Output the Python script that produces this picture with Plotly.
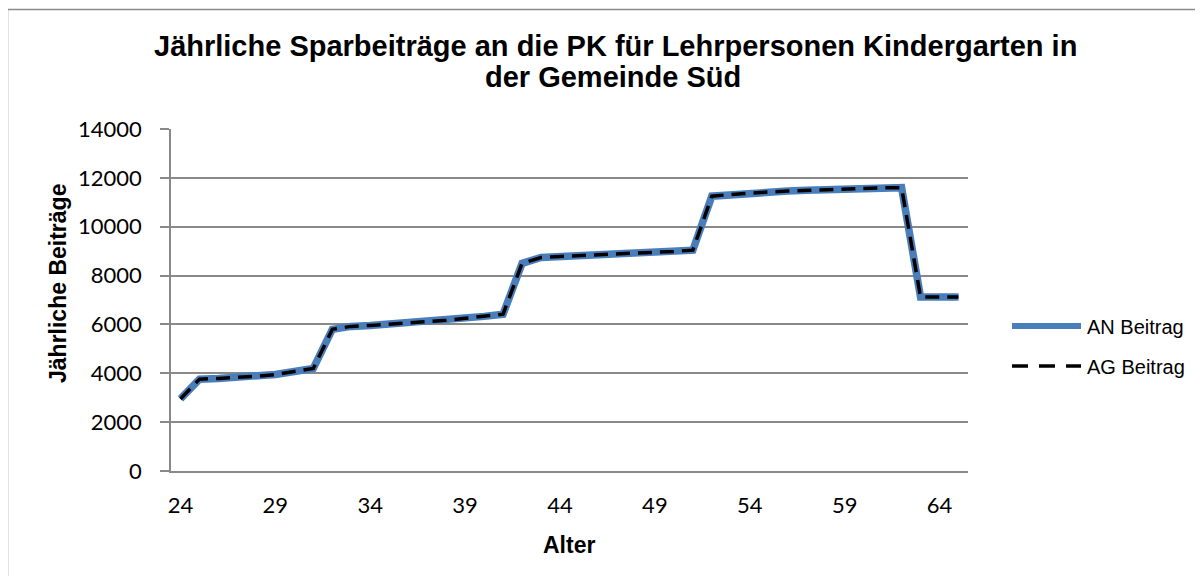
import plotly.graph_objects as go

ages = list(range(24, 66))
an_beitrag = [2950, 3760, 3790, 3830, 3880, 3950, 4070, 4200,
              5800, 5920, 5960, 6010, 6060, 6110, 6170, 6250, 6330, 6420,
              8500, 8740, 8780, 8810, 8850, 8880, 8920, 8950, 8990, 9040,
              11250, 11320, 11380, 11420, 11460, 11490, 11520, 11550, 11570, 11590, 11600,
              7120, 7120, 7120]
ag_beitrag = list(an_beitrag)
x_tick_vals = [24, 29, 34, 39, 44, 49, 54, 59, 64]
y_tick_vals = [0, 2000, 4000, 6000, 8000, 10000, 12000, 14000]

title_lines = ["Jährliche Sparbeiträge an die PK für Lehrpersonen Kindergarten in",
               "der Gemeinde Süd"]
x_title = "Alter"
y_title = "Jährliche Beiträge"
series_names = ["AN Beitrag", "AG Beitrag"]

BLUE = "#4A7EBB"
GRID = "#898989"

OFF = 8  # page body margin
W, H = 1203 - 2 * OFF, 584 - 2 * OFF
# plot area in page coordinates
PL, PR, PT, PB = 171, 968, 129, 471
L, R, T, B = PL - OFF, PR - OFF, PT - OFF, PB - OFF


def px(xp):
    return (xp - PL) / (PR - PL)


def py(yp):
    return (PB - yp) / (PB - PT)


fig = go.Figure()
fig.add_trace(go.Scatter(x=ages, y=an_beitrag, mode="lines", name=series_names[0],
                         line=dict(color=BLUE, width=7.5), showlegend=False))
fig.add_trace(go.Scatter(x=ages, y=ag_beitrag, mode="lines", name=series_names[1],
                         line=dict(color="black", width=3.5, dash="14px,8px"), showlegend=False))

shapes = [
    dict(type="rect", xref="paper", yref="paper", x0=px(7.5), x1=px(1230), y0=py(620), y1=py(9.5),
         line=dict(color="#8a8a8a", width=1.5), layer="below"),
    dict(type="line", xref="paper", yref="paper", x0=px(1012), x1=px(1081), y0=py(326), y1=py(326),
         line=dict(color=BLUE, width=6)),
    dict(type="line", xref="paper", yref="paper", x0=px(1012), x1=px(1081), y0=py(366), y1=py(366),
         line=dict(color="black", width=3.5, dash="16px,11px")),
]

title_font = dict(family="Arial", size=29, color="black", weight="bold")
annotations = [
    dict(text=title_lines[0], xref="paper", yref="paper", x=px(615.5), y=py(46), showarrow=False,
         font=title_font, xanchor="center", yanchor="middle"),
    dict(text=title_lines[1], xref="paper", yref="paper", x=px(612.5), y=py(77), showarrow=False,
         font=title_font, xanchor="center", yanchor="middle"),
    dict(text=y_title, xref="paper", yref="paper", x=px(58), y=py(284), showarrow=False,
         textangle=-90, font=dict(family="Arial", size=23, color="black", weight="bold"),
         xanchor="center", yanchor="middle"),
    dict(text=x_title, xref="paper", yref="paper", x=px(569), y=py(545), showarrow=False,
         font=dict(family="Arial", size=23, color="black", weight="bold"),
         xanchor="center", yanchor="middle"),
    dict(text=series_names[0], xref="paper", yref="paper", x=px(1085), y=py(327), showarrow=False,
         font=dict(family="Arial", size=20, color="black"), xanchor="left", yanchor="middle"),
    dict(text=series_names[1], xref="paper", yref="paper", x=px(1085), y=py(367), showarrow=False,
         font=dict(family="Arial", size=20, color="black"), xanchor="left", yanchor="middle"),
]

fig.update_layout(
    width=W, height=H,
    margin=dict(l=L, r=W - R, t=T, b=H - B, pad=0),
    paper_bgcolor="white", plot_bgcolor="white",
    shapes=shapes, annotations=annotations, showlegend=False,
    xaxis=dict(range=[23.5, 65.5], tickvals=x_tick_vals, ticktext=[str(v) for v in x_tick_vals],
               showgrid=False, zeroline=False, showline=True, linecolor=GRID, linewidth=1.5,
               ticks="", ticklabelstandoff=14,
               tickfont=dict(family="Lato", size=22, color="black")),
    yaxis=dict(range=[0, 14000], tickvals=y_tick_vals, ticktext=[str(v) for v in y_tick_vals],
               showgrid=True, gridcolor=GRID, gridwidth=1.5,
               zeroline=False, showline=True, linecolor=GRID, linewidth=1.5,
               ticks="outside", ticklen=9, tickcolor=GRID, tickwidth=1.5, ticklabelstandoff=14,
               tickfont=dict(family="Lato", size=22, color="black")),
)

fig.write_html("out.html")
